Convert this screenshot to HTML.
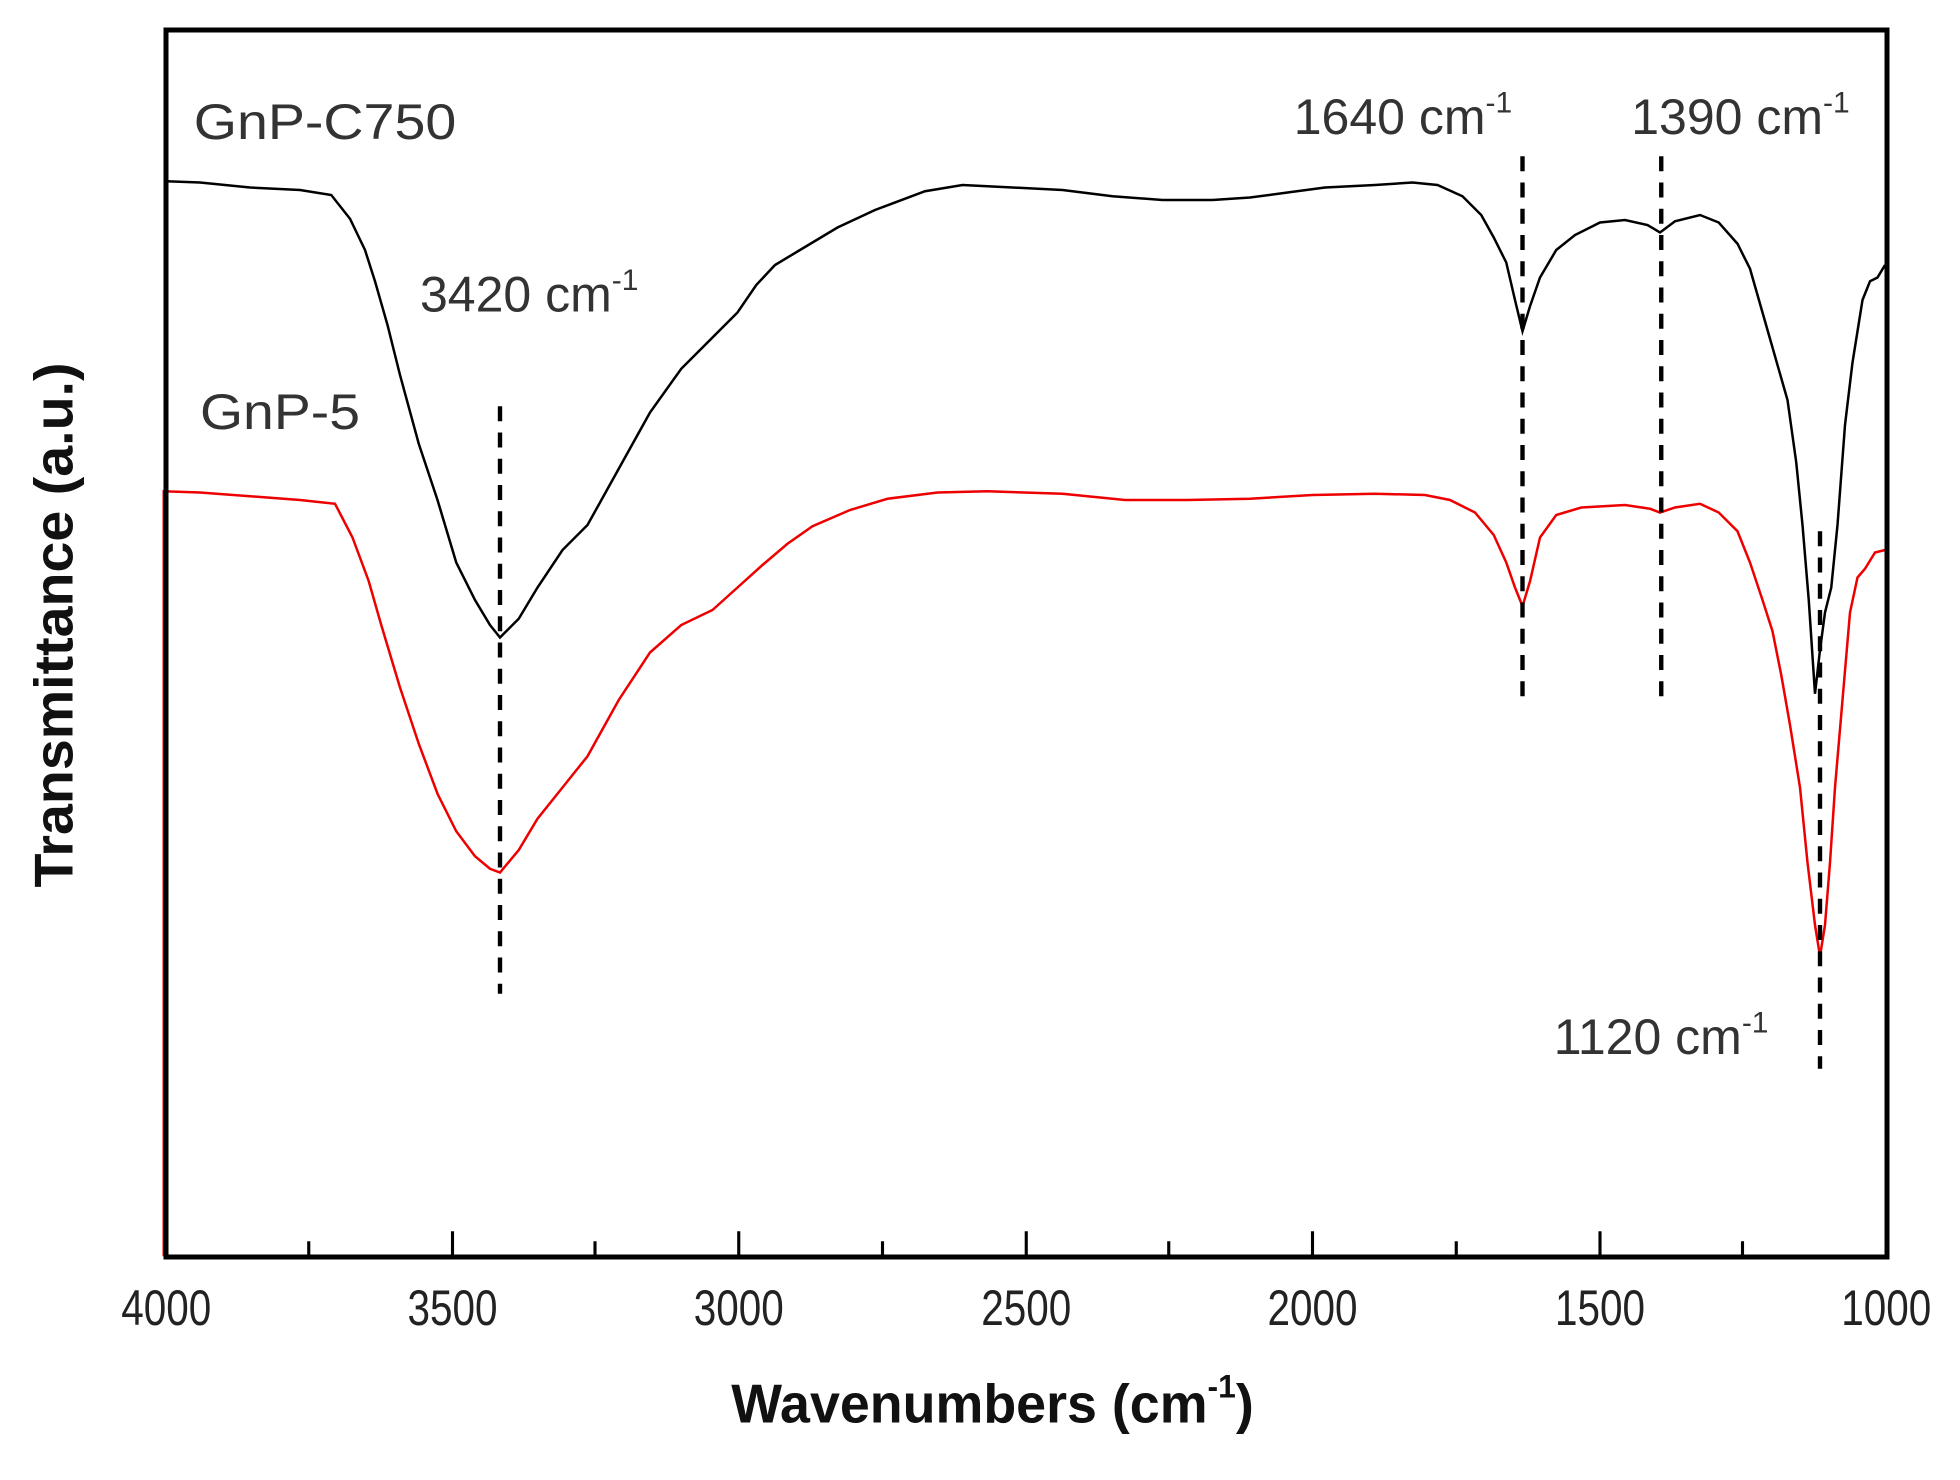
<!DOCTYPE html>
<html><head><meta charset="utf-8"><style>html,body{margin:0;padding:0;background:#fff}svg{display:block}</style></head>
<body>
<svg width="1960" height="1480" viewBox="0 0 1568 1184" xmlns="http://www.w3.org/2000/svg" font-family="Liberation Sans, Arial, sans-serif">
<rect width="1568" height="1184" fill="#fff"/>
<g stroke="#000" stroke-width="2" fill="none">
<path d="M133,145 L160,146 L200,150 L240,152 L265,156 L280,175 L292,200 L300,225 L310,260 L320,300 L335,355 L350,400 L365,450 L380,480 L392,500 L400,510 L415,495 L430,470 L450,440 L470,420 L495,375 L520,330 L545,295 L570,270 L590,250 L605,228 L620,212 L640,200 L670,182 L700,168 L740,153 L770,148 L810,150 L850,152 L890,157 L930,160 L970,160 L1000,158 L1030,154 L1060,150 L1100,148 L1130,146 L1150,148 L1170,157 L1185,172 L1195,190 L1205,210 L1212,240 L1218,265 L1224,245 L1232,222 L1245,200 L1260,188 L1280,178 L1300,176 L1318,180 L1328,186 L1340,177 L1360,172 L1375,178 L1390,195 L1400,215 L1410,250 L1420,285 L1430,320 L1437,370 L1442,420 L1447,480 L1452,555 L1456,520 L1460,490 L1465,470 L1470,420 L1476,340 L1482,290 L1490,240 L1496,225 L1502,222 L1508,212"/>
</g>
<g stroke="#e00" stroke-width="2" fill="none">
<path d="M131,1005 L131,393 L160,394 L200,397 L240,400 L268,403 L282,430 L295,465 L305,500 L320,550 L335,595 L350,635 L365,665 L380,685 L392,695 L400,698 L415,680 L430,655 L450,630 L470,605 L495,560 L520,522 L545,500 L570,488 L590,470 L610,452 L630,435 L650,421 L680,408 L710,399 L750,394 L790,393 L850,395 L900,400 L950,400 L1000,399 L1050,396 L1100,395 L1140,396 L1160,400 L1180,410 L1195,428 L1205,450 L1212,470 L1218,485 L1224,465 L1232,430 L1245,412 L1265,406 L1300,404 L1320,407 L1328,410 L1340,406 L1360,403 L1375,410 L1390,425 L1400,450 L1410,480 L1418,505 L1425,540 L1432,580 L1440,630 L1446,690 L1452,740 L1456,765 L1460,740 L1464,690 L1468,630 L1474,560 L1480,490 L1486,462 L1492,455 L1500,442 L1508,440"/>
</g>
<g stroke="#000" stroke-width="3.5" stroke-dasharray="12,9" fill="none">
<line x1="400" y1="325" x2="400" y2="795"/>
<line x1="1218" y1="125" x2="1218" y2="560"/>
<line x1="1329" y1="125" x2="1329" y2="560"/>
<line x1="1456" y1="425" x2="1456" y2="855"/>
</g>
<rect x="132.8" y="24" width="1376.8" height="981.6" fill="none" stroke="#000" stroke-width="4"/>
<g stroke="#000" stroke-width="2.5">
<line x1="362" y1="1005" x2="362" y2="985"/><line x1="591" y1="1005" x2="591" y2="985"/><line x1="821" y1="1005" x2="821" y2="985"/><line x1="1050" y1="1005" x2="1050" y2="985"/><line x1="1280" y1="1005" x2="1280" y2="985"/>
<line x1="247" y1="1005" x2="247" y2="993"/><line x1="476" y1="1005" x2="476" y2="993"/><line x1="706" y1="1005" x2="706" y2="993"/><line x1="935" y1="1005" x2="935" y2="993"/><line x1="1165" y1="1005" x2="1165" y2="993"/><line x1="1394" y1="1005" x2="1394" y2="993"/>
</g>
<g font-size="40" fill="#222" text-anchor="middle">
<text x="133" y="1060" textLength="72" lengthAdjust="spacingAndGlyphs">4000</text>
<text x="362" y="1060" textLength="72" lengthAdjust="spacingAndGlyphs">3500</text>
<text x="591" y="1060" textLength="72" lengthAdjust="spacingAndGlyphs">3000</text>
<text x="821" y="1060" textLength="72" lengthAdjust="spacingAndGlyphs">2500</text>
<text x="1050" y="1060" textLength="72" lengthAdjust="spacingAndGlyphs">2000</text>
<text x="1280" y="1060" textLength="72" lengthAdjust="spacingAndGlyphs">1500</text>
<text x="1509" y="1060" textLength="72" lengthAdjust="spacingAndGlyphs">1000</text>
</g>
<text x="585" y="1138" font-size="44" font-weight="bold" fill="#111" textLength="418" lengthAdjust="spacingAndGlyphs">Wavenumbers (cm<tspan font-size="26" dy="-20">-1</tspan><tspan dy="20">)</tspan></text>
<text transform="translate(58,500) rotate(-90)" text-anchor="middle" font-size="44" font-weight="bold" fill="#111" textLength="420" lengthAdjust="spacingAndGlyphs">Transmittance (a.u.)</text>
<g font-size="40" fill="#333">
<text x="155" y="111" textLength="210" lengthAdjust="spacingAndGlyphs">GnP-C750</text>
<text x="160" y="343" textLength="128" lengthAdjust="spacingAndGlyphs">GnP-5</text>
<text x="336" y="249">3420 cm<tspan font-size="24" dy="-17">-1</tspan></text>
<text x="1035" y="107">1640 cm<tspan font-size="24" dy="-17">-1</tspan></text>
<text x="1305" y="107">1390 cm<tspan font-size="24" dy="-17">-1</tspan></text>
<text x="1243" y="843">1120 cm<tspan font-size="24" dy="-17">-1</tspan></text>
</g>
</svg>
</body></html>
